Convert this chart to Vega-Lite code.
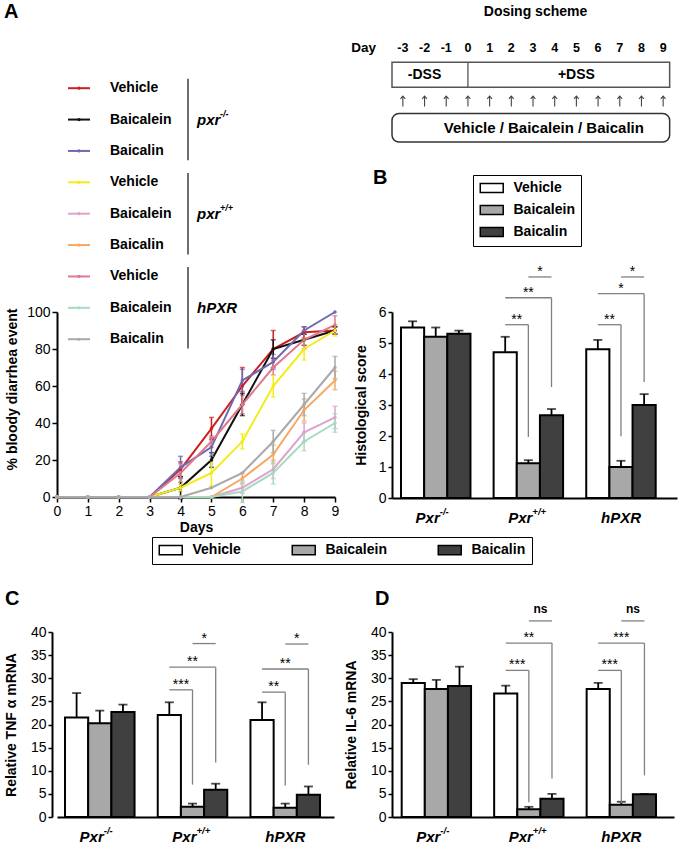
{
"$schema":"https://vega.github.io/schema/vega-lite/v6.json",
"padding":{"left":4,"top":2,"right":2,"bottom":2},
"background":"white",
"config":{
 "font":"Liberation Sans",
 "view":{"stroke":null},
 "axis":{"domainColor":"black","domainWidth":2,"tickColor":"black","tickWidth":1.5,"tickSize":4,"labelPadding":2,"labelColor":"black","labelFontSize":14,"titleFontSize":14,"titleFontWeight":"bold","titleColor":"black","grid":false,"labelFlush":false,"labelOverlap":false},
 "title":{"fontWeight":"bold","color":"black","anchor":"start","frame":"group","baseline":"alphabetic"}
},
"datasets":{
 "seriesA":[
  {"s":"pxr-/-|Vehicle","d":0,"v":0,"e":0},{"s":"pxr-/-|Vehicle","d":1,"v":0,"e":0},{"s":"pxr-/-|Vehicle","d":2,"v":0,"e":0},{"s":"pxr-/-|Vehicle","d":3,"v":0,"e":0},{"s":"pxr-/-|Vehicle","d":4,"v":15,"e":4},{"s":"pxr-/-|Vehicle","d":5,"v":37,"e":6},{"s":"pxr-/-|Vehicle","d":6,"v":60,"e":10},{"s":"pxr-/-|Vehicle","d":7,"v":80,"e":10},{"s":"pxr-/-|Vehicle","d":8,"v":89,"e":3},{"s":"pxr-/-|Vehicle","d":9,"v":90,"e":2},
  {"s":"pxr-/-|Baicalein","d":0,"v":0,"e":0},{"s":"pxr-/-|Baicalein","d":1,"v":0,"e":0},{"s":"pxr-/-|Baicalein","d":2,"v":0,"e":0},{"s":"pxr-/-|Baicalein","d":3,"v":0,"e":0},{"s":"pxr-/-|Baicalein","d":4,"v":5,"e":6},{"s":"pxr-/-|Baicalein","d":5,"v":20,"e":4},{"s":"pxr-/-|Baicalein","d":6,"v":50,"e":6},{"s":"pxr-/-|Baicalein","d":7,"v":80,"e":5},{"s":"pxr-/-|Baicalein","d":8,"v":85,"e":3},{"s":"pxr-/-|Baicalein","d":9,"v":90,"e":2},
  {"s":"pxr-/-|Baicalin","d":0,"v":0,"e":0},{"s":"pxr-/-|Baicalin","d":1,"v":0,"e":0},{"s":"pxr-/-|Baicalin","d":2,"v":0,"e":0},{"s":"pxr-/-|Baicalin","d":3,"v":0,"e":0},{"s":"pxr-/-|Baicalin","d":4,"v":16,"e":6},{"s":"pxr-/-|Baicalin","d":5,"v":27,"e":5},{"s":"pxr-/-|Baicalin","d":6,"v":63,"e":6},{"s":"pxr-/-|Baicalin","d":7,"v":73,"e":4},{"s":"pxr-/-|Baicalin","d":8,"v":90,"e":2},{"s":"pxr-/-|Baicalin","d":9,"v":100,"e":0},
  {"s":"pxr+/+|Vehicle","d":0,"v":0,"e":0},{"s":"pxr+/+|Vehicle","d":1,"v":0,"e":0},{"s":"pxr+/+|Vehicle","d":2,"v":0,"e":0},{"s":"pxr+/+|Vehicle","d":3,"v":0,"e":0},{"s":"pxr+/+|Vehicle","d":4,"v":5,"e":2},{"s":"pxr+/+|Vehicle","d":5,"v":13,"e":7},{"s":"pxr+/+|Vehicle","d":6,"v":30,"e":4},{"s":"pxr+/+|Vehicle","d":7,"v":60,"e":6},{"s":"pxr+/+|Vehicle","d":8,"v":80,"e":6},{"s":"pxr+/+|Vehicle","d":9,"v":90,"e":3},
  {"s":"pxr+/+|Baicalein","d":0,"v":0,"e":0},{"s":"pxr+/+|Baicalein","d":1,"v":0,"e":0},{"s":"pxr+/+|Baicalein","d":2,"v":0,"e":0},{"s":"pxr+/+|Baicalein","d":3,"v":0,"e":0},{"s":"pxr+/+|Baicalein","d":4,"v":0,"e":0},{"s":"pxr+/+|Baicalein","d":5,"v":0,"e":0},{"s":"pxr+/+|Baicalein","d":6,"v":5,"e":3},{"s":"pxr+/+|Baicalein","d":7,"v":15,"e":5},{"s":"pxr+/+|Baicalein","d":8,"v":35,"e":5},{"s":"pxr+/+|Baicalein","d":9,"v":43,"e":6},
  {"s":"pxr+/+|Baicalin","d":0,"v":0,"e":0},{"s":"pxr+/+|Baicalin","d":1,"v":0,"e":0},{"s":"pxr+/+|Baicalin","d":2,"v":0,"e":0},{"s":"pxr+/+|Baicalin","d":3,"v":0,"e":0},{"s":"pxr+/+|Baicalin","d":4,"v":0,"e":0},{"s":"pxr+/+|Baicalin","d":5,"v":0,"e":0},{"s":"pxr+/+|Baicalin","d":6,"v":10,"e":3},{"s":"pxr+/+|Baicalin","d":7,"v":23,"e":5},{"s":"pxr+/+|Baicalin","d":8,"v":47,"e":6},{"s":"pxr+/+|Baicalin","d":9,"v":63,"e":5},
  {"s":"hPXR|Vehicle","d":0,"v":0,"e":0},{"s":"hPXR|Vehicle","d":1,"v":0,"e":0},{"s":"hPXR|Vehicle","d":2,"v":0,"e":0},{"s":"hPXR|Vehicle","d":3,"v":0,"e":0},{"s":"hPXR|Vehicle","d":4,"v":13,"e":5},{"s":"hPXR|Vehicle","d":5,"v":30,"e":3},{"s":"hPXR|Vehicle","d":6,"v":50,"e":5},{"s":"hPXR|Vehicle","d":7,"v":70,"e":4},{"s":"hPXR|Vehicle","d":8,"v":85,"e":5},{"s":"hPXR|Vehicle","d":9,"v":93,"e":5},
  {"s":"hPXR|Baicalein","d":0,"v":0,"e":0},{"s":"hPXR|Baicalein","d":1,"v":0,"e":0},{"s":"hPXR|Baicalein","d":2,"v":0,"e":0},{"s":"hPXR|Baicalein","d":3,"v":0,"e":0},{"s":"hPXR|Baicalein","d":4,"v":0,"e":0},{"s":"hPXR|Baicalein","d":5,"v":0,"e":0},{"s":"hPXR|Baicalein","d":6,"v":3,"e":6},{"s":"hPXR|Baicalein","d":7,"v":13,"e":6},{"s":"hPXR|Baicalein","d":8,"v":30,"e":5},{"s":"hPXR|Baicalein","d":9,"v":40,"e":5},
  {"s":"hPXR|Baicalin","d":0,"v":0,"e":0},{"s":"hPXR|Baicalin","d":1,"v":0,"e":0},{"s":"hPXR|Baicalin","d":2,"v":0,"e":0},{"s":"hPXR|Baicalin","d":3,"v":0,"e":0},{"s":"hPXR|Baicalin","d":4,"v":0,"e":0},{"s":"hPXR|Baicalin","d":5,"v":5,"e":0},{"s":"hPXR|Baicalin","d":6,"v":13,"e":0},{"s":"hPXR|Baicalin","d":7,"v":30,"e":6},{"s":"hPXR|Baicalin","d":8,"v":50,"e":6},{"s":"hPXR|Baicalin","d":9,"v":70,"e":6}
 ],
 "legA":[
  {"s":"pxr-/-|Vehicle","t":"Vehicle"},{"s":"pxr-/-|Baicalein","t":"Baicalein"},{"s":"pxr-/-|Baicalin","t":"Baicalin"},
  {"s":"pxr+/+|Vehicle","t":"Vehicle"},{"s":"pxr+/+|Baicalein","t":"Baicalein"},{"s":"pxr+/+|Baicalin","t":"Baicalin"},
  {"s":"hPXR|Vehicle","t":"Vehicle"},{"s":"hPXR|Baicalein","t":"Baicalein"},{"s":"hPXR|Baicalin","t":"Baicalin"}
 ],
 "grpA":[
  {"g":"pxr","sup":"-/-","first":"pxr-/-|Vehicle","mid":"pxr-/-|Baicalein","last":"pxr-/-|Baicalin"},
  {"g":"pxr","sup":"+/+","first":"pxr+/+|Vehicle","mid":"pxr+/+|Baicalein","last":"pxr+/+|Baicalin"},
  {"g":"hPXR","sup":"","first":"hPXR|Vehicle","mid":"hPXR|Baicalein","last":"hPXR|Baicalin"}
 ],
 "days":[{"day":-3},{"day":-2},{"day":-1},{"day":0},{"day":1},{"day":2},{"day":3},{"day":4},{"day":5},{"day":6},{"day":7},{"day":8},{"day":9}],
 "dssBox":[{"a":-3,"b":9,"div":0}],
 "dssText":[{"c":-2,"lab":"-DSS"},{"c":5,"lab":"+DSS"}],
 "treatBox":[{"a":-3,"b":9,"c":4,"lab":"Vehicle / Baicalein / Baicalin"}],
 "cat":[{"key":"Pxr-/-|Baicalein","base":"Pxr","sup":"-/-"},{"key":"Pxr+/+|Baicalein","base":"Pxr","sup":"+/+"},{"key":"hPXR|Baicalein","base":"hPXR","sup":""}],
 "barsB":[
  {"key":"Pxr-/-|Vehicle","t":"Vehicle","v":5.5,"hi":5.7},{"key":"Pxr-/-|Baicalein","t":"Baicalein","v":5.2,"hi":5.5},{"key":"Pxr-/-|Baicalin","t":"Baicalin","v":5.3,"hi":5.4},
  {"key":"Pxr+/+|Vehicle","t":"Vehicle","v":4.7,"hi":5.2},{"key":"Pxr+/+|Baicalein","t":"Baicalein","v":1.12,"hi":1.22},{"key":"Pxr+/+|Baicalin","t":"Baicalin","v":2.67,"hi":2.87},
  {"key":"hPXR|Vehicle","t":"Vehicle","v":4.8,"hi":5.1},{"key":"hPXR|Baicalein","t":"Baicalein","v":1.0,"hi":1.2},{"key":"hPXR|Baicalin","t":"Baicalin","v":3.0,"hi":3.35}
 ],
 "barsC":[
  {"key":"Pxr-/-|Vehicle","t":"Vehicle","v":21.5,"hi":26.8},{"key":"Pxr-/-|Baicalein","t":"Baicalein","v":20.25,"hi":23.0},{"key":"Pxr-/-|Baicalin","t":"Baicalin","v":22.7,"hi":24.3},
  {"key":"Pxr+/+|Vehicle","t":"Vehicle","v":22.05,"hi":24.8},{"key":"Pxr+/+|Baicalein","t":"Baicalein","v":2.2,"hi":2.9},{"key":"Pxr+/+|Baicalin","t":"Baicalin","v":5.9,"hi":7.2},
  {"key":"hPXR|Vehicle","t":"Vehicle","v":21.0,"hi":24.8},{"key":"hPXR|Baicalein","t":"Baicalein","v":2.0,"hi":2.9},{"key":"hPXR|Baicalin","t":"Baicalin","v":4.8,"hi":6.6}
 ],
 "barsD":[
  {"key":"Pxr-/-|Vehicle","t":"Vehicle","v":29.0,"hi":29.8},{"key":"Pxr-/-|Baicalein","t":"Baicalein","v":27.65,"hi":29.65},{"key":"Pxr-/-|Baicalin","t":"Baicalin","v":28.3,"hi":32.5},
  {"key":"Pxr+/+|Vehicle","t":"Vehicle","v":26.7,"hi":28.4},{"key":"Pxr+/+|Baicalein","t":"Baicalein","v":1.7,"hi":2.2},{"key":"Pxr+/+|Baicalin","t":"Baicalin","v":3.95,"hi":5.0},
  {"key":"hPXR|Vehicle","t":"Vehicle","v":27.7,"hi":29.0},{"key":"hPXR|Baicalein","t":"Baicalein","v":2.65,"hi":3.3},{"key":"hPXR|Baicalin","t":"Baicalin","v":4.9,"hi":5.0}
 ],
 "sigB":[
  {"from":"Pxr+/+|Vehicle","to":"Pxr+/+|Baicalein","mid":"Pxr+/+|Baicalein","span":1,"y":5.59,"yv":1.97,"lab":"**"},
  {"from":"Pxr+/+|Vehicle","to":"Pxr+/+|Baicalin","mid":"Pxr+/+|Baicalein","span":2,"y":6.46,"yv":3.58,"lab":"**"},
  {"from":"Pxr+/+|Baicalein","to":"Pxr+/+|Baicalin","mid":"Pxr+/+|Baicalein","span":1,"y":7.13,"yv":7.13,"lab":"*"},
  {"from":"hPXR|Vehicle","to":"hPXR|Baicalein","mid":"hPXR|Baicalein","span":1,"y":5.59,"yv":1.99,"lab":"**"},
  {"from":"hPXR|Vehicle","to":"hPXR|Baicalin","mid":"hPXR|Baicalein","span":2,"y":6.59,"yv":3.74,"lab":"*"},
  {"from":"hPXR|Baicalein","to":"hPXR|Baicalin","mid":"hPXR|Baicalein","span":1,"y":7.13,"yv":7.13,"lab":"*"}
 ],
 "sigC":[
  {"from":"Pxr+/+|Vehicle","to":"Pxr+/+|Baicalein","mid":"Pxr+/+|Baicalein","span":1,"y":27.5,"yv":7.0,"lab":"***"},
  {"from":"Pxr+/+|Vehicle","to":"Pxr+/+|Baicalin","mid":"Pxr+/+|Baicalein","span":2,"y":32.4,"yv":11.8,"lab":"**"},
  {"from":"Pxr+/+|Baicalein","to":"Pxr+/+|Baicalin","mid":"Pxr+/+|Baicalein","span":1,"y":37.5,"yv":37.5,"lab":"*"},
  {"from":"hPXR|Vehicle","to":"hPXR|Baicalein","mid":"hPXR|Baicalein","span":1,"y":27.0,"yv":6.8,"lab":"**"},
  {"from":"hPXR|Vehicle","to":"hPXR|Baicalin","mid":"hPXR|Baicalein","span":2,"y":32.0,"yv":11.3,"lab":"**"},
  {"from":"hPXR|Baicalein","to":"hPXR|Baicalin","mid":"hPXR|Baicalein","span":1,"y":37.4,"yv":37.4,"lab":"*"}
 ],
 "sigD":[
  {"from":"Pxr+/+|Vehicle","to":"Pxr+/+|Baicalein","mid":"Pxr+/+|Baicalein","span":1,"y":31.7,"yv":3.2,"lab":"***"},
  {"from":"Pxr+/+|Vehicle","to":"Pxr+/+|Baicalin","mid":"Pxr+/+|Baicalein","span":2,"y":37.6,"yv":8.3,"lab":"**"},
  {"from":"Pxr+/+|Baicalein","to":"Pxr+/+|Baicalin","mid":"Pxr+/+|Baicalein","span":1,"y":42.4,"yv":42.4,"lab":"ns"},
  {"from":"hPXR|Vehicle","to":"hPXR|Baicalein","mid":"hPXR|Baicalein","span":1,"y":31.7,"yv":3.0,"lab":"***"},
  {"from":"hPXR|Vehicle","to":"hPXR|Baicalin","mid":"hPXR|Baicalein","span":2,"y":37.6,"yv":9.0,"lab":"***"},
  {"from":"hPXR|Baicalein","to":"hPXR|Baicalin","mid":"hPXR|Baicalein","span":1,"y":42.4,"yv":42.4,"lab":"ns"}
 ]
},
"bounds":"flush",
"columns":2,
"spacing":{"row":134,"column":57},
"resolve":{"scale":{"fill":"independent","color":"independent"},"legend":{"fill":"independent","color":"independent"}},
"concat":[
 {"width":278,"height":143,
  "title":{"text":"A","fontSize":20,"dx":-53,"offset":13},
  "layer":[
   {"data":{"name":"legA"},"mark":{"type":"rule","strokeWidth":2},
    "encoding":{"x":{"value":11},"x2":{"value":33},
     "y":{"field":"s","type":"nominal","bandPosition":0.5,"scale":{"type":"band","domain":["pxr-/-|Vehicle","pxr-/-|Baicalein","pxr-/-|Baicalin","pxr+/+|Vehicle","pxr+/+|Baicalein","pxr+/+|Baicalin","hPXR|Vehicle","hPXR|Baicalein","hPXR|Baicalin"],"range":[37.5,319.9],"paddingInner":0,"paddingOuter":0},"axis":null},
     "color":{"field":"s","type":"nominal","scale":{"domain":["pxr-/-|Vehicle","pxr-/-|Baicalein","pxr-/-|Baicalin","pxr+/+|Vehicle","pxr+/+|Baicalein","pxr+/+|Baicalin","hPXR|Vehicle","hPXR|Baicalein","hPXR|Baicalin"],"range":["#cc1f1f","#111111","#6b6bb3","#f2ec1a","#dda3cf","#f5a862","#e0788f","#a7dbbd","#a9a9a9"]},"legend":null}}},
   {"data":{"name":"legA"},"mark":{"type":"point","filled":true,"size":10,"opacity":1},
    "encoding":{"x":{"value":22},"y":{"field":"s","type":"nominal","bandPosition":0.5,"axis":null},"color":{"field":"s","type":"nominal","legend":null}}},
   {"data":{"name":"legA"},"mark":{"type":"text","align":"left","baseline":"middle","fontSize":14,"fontWeight":"bold","color":"black"},
    "encoding":{"x":{"value":53},"y":{"field":"s","type":"nominal","bandPosition":0.5,"axis":null},"text":{"field":"t","type":"nominal"}}},
   {"data":{"name":"grpA"},"mark":{"type":"rule","color":"#222222","strokeWidth":1.3},
    "encoding":{"x":{"value":131},"y":{"field":"first","type":"nominal","bandPosition":0.2,"axis":null},"y2":{"field":"last","bandPosition":0.8}}},
   {"data":{"name":"grpA"},"mark":{"type":"text","align":"left","baseline":"middle","fontSize":15,"fontWeight":"bold","fontStyle":"italic","color":"black"},
    "encoding":{"x":{"value":140},"y":{"field":"mid","type":"nominal","bandPosition":0.5,"axis":null},"text":{"field":"g","type":"nominal"}}},
   {"data":{"name":"grpA"},"mark":{"type":"text","align":"left","baseline":"middle","dy":-6,"fontSize":9,"fontWeight":"bold","fontStyle":"italic","color":"black"},
    "encoding":{"x":{"value":163},"y":{"field":"mid","type":"nominal","bandPosition":0.5,"axis":null},"text":{"field":"sup","type":"nominal"}}}
  ]},
 {"width":282,"height":106,
  "title":{"text":"Dosing scheme","anchor":"middle","fontSize":14,"dx":2.5,"offset":16},
  "layer":[
   {"data":{"name":"dssBox"},"mark":{"type":"rect","fill":"white","stroke":"#555555","strokeWidth":1.5,"height":{"band":0.94}},
    "encoding":{"x":{"field":"a","type":"ordinal","bandPosition":0,"scale":{"type":"band","domain":[-3,-2,-1,0,1,2,3,4,5,6,7,8,9],"paddingInner":0,"paddingOuter":0},"axis":null},
     "x2":{"field":"b","bandPosition":0.8},
     "y":{"datum":"box","type":"nominal","scale":{"type":"band","domain":["days","box","arrow","treat"],"paddingInner":0,"paddingOuter":0},"axis":{"labelExpr":"datum.value == 'days' ? 'Day' : ''","domain":false,"ticks":false,"labelFontWeight":"bold","labelFontSize":13.5,"labelPadding":16.5,"title":null}}}},
   {"data":{"name":"dssBox"},"mark":{"type":"rule","color":"#555555","strokeWidth":1.3},
    "encoding":{"x":{"field":"div","type":"ordinal","bandPosition":0.5,"axis":null},"y":{"datum":"box","type":"nominal","bandPosition":0.03},"y2":{"datum":"box","bandPosition":0.97}}},
   {"data":{"name":"dssText"},"mark":{"type":"text","fontSize":14,"fontWeight":"bold","baseline":"middle"},
    "encoding":{"x":{"field":"c","type":"ordinal","bandPosition":0.5,"axis":null},"y":{"datum":"box","type":"nominal"},"text":{"field":"lab","type":"nominal"}}},
   {"data":{"name":"days"},"mark":{"type":"text","fontSize":12.5,"fontWeight":"bold","baseline":"middle"},
    "encoding":{"x":{"field":"day","type":"ordinal","bandPosition":0.5,"axis":null},"y":{"datum":"days","type":"nominal"},"text":{"field":"day","type":"nominal"}}},
   {"data":{"name":"days"},"mark":{"type":"point","shape":"M0,1V-1M-0.45,-0.45L0,-1L0.45,-0.45","filled":false,"size":110,"color":"#444444","strokeWidth":1.1,"opacity":1},
    "encoding":{"x":{"field":"day","type":"ordinal","bandPosition":0.5,"axis":null},"y":{"datum":"arrow","type":"nominal"}}},
   {"data":{"name":"treatBox"},"mark":{"type":"rect","fill":"white","stroke":"#333333","strokeWidth":1.5,"cornerRadius":7,"height":{"band":1.08}},
    "encoding":{"x":{"field":"a","type":"ordinal","bandPosition":0,"axis":null},"x2":{"field":"b","bandPosition":0.8},"y":{"datum":"treat","type":"nominal"}}},
   {"data":{"name":"treatBox"},"mark":{"type":"text","fontSize":15,"fontWeight":"bold","baseline":"middle"},
    "encoding":{"x":{"field":"c","type":"ordinal","bandPosition":0,"axis":null},"y":{"datum":"treat","type":"nominal"},"text":{"field":"lab","type":"nominal"}}}
  ]},
 {"width":278,"height":185,
  "data":{"name":"seriesA"},
  "layer":[
   {"mark":{"type":"line","strokeWidth":2},
    "encoding":{
     "x":{"field":"d","type":"quantitative","title":"Days","scale":{"domain":[0,9],"nice":false},"axis":{"title":"Days","values":[0,1,2,3,4,5,6,7,8,9],"tickSize":5,"titlePadding":2}},
     "y":{"field":"v","type":"quantitative","title":"% bloody diarrhea event","scale":{"domain":[0,100],"nice":false},"axis":{"title":"% bloody diarrhea event","values":[0,20,40,60,80,100],"tickSize":5,"titlePadding":7.6,"titleY":77}},
     "color":{"field":"s","type":"nominal","scale":{"domain":["pxr-/-|Vehicle","pxr-/-|Baicalein","pxr-/-|Baicalin","pxr+/+|Vehicle","pxr+/+|Baicalein","pxr+/+|Baicalin","hPXR|Vehicle","hPXR|Baicalein","hPXR|Baicalin"],"range":["#cc1f1f","#111111","#6b6bb3","#f2ec1a","#dda3cf","#f5a862","#e0788f","#a7dbbd","#a9a9a9"]},"legend":null}}},
   {"transform":[{"filter":"datum.e > 0"}],
    "mark":{"type":"errorbar","ticks":{"size":5},"thickness":1.5},
    "encoding":{"x":{"field":"d","type":"quantitative","title":"Days","axis":{"title":"Days","values":[0,1,2,3,4,5,6,7,8,9],"tickSize":5,"titlePadding":2}},
     "y":{"field":"v","type":"quantitative","title":"% bloody diarrhea event","axis":{"title":"% bloody diarrhea event","values":[0,20,40,60,80,100],"tickSize":5,"titlePadding":7.6,"titleY":77}},
     "yError":{"field":"e"},"color":{"field":"s","type":"nominal","legend":null}}},
   {"mark":{"type":"point","filled":true,"size":12,"opacity":1},
    "encoding":{"x":{"field":"d","type":"quantitative","title":"Days","axis":{"title":"Days","values":[0,1,2,3,4,5,6,7,8,9],"tickSize":5,"titlePadding":2}},
     "y":{"field":"v","type":"quantitative","title":"% bloody diarrhea event","axis":{"title":"% bloody diarrhea event","values":[0,20,40,60,80,100],"tickSize":5,"titlePadding":7.6,"titleY":77}},
     "color":{"field":"s","type":"nominal","legend":null}}}
  ]},
 {"width":285,"height":186,
  "title":{"text":"B","fontSize":20,"dx":-19,"offset":-13},
  "layer":[
   {"data":{"name":"barsB"},"mark":{"type":"bar","stroke":"black","strokeWidth":2},
    "encoding":{
     "x":{"field":"key","type":"nominal","title":null,"scale":{"type":"band","domain":["Pxr-/-|Vehicle","Pxr-/-|Baicalein","Pxr-/-|Baicalin","gap1","Pxr+/+|Vehicle","Pxr+/+|Baicalein","Pxr+/+|Baicalin","gap2","hPXR|Vehicle","hPXR|Baicalein","hPXR|Baicalin"],"paddingInner":0,"paddingOuter":0.654,"align":0.297},"axis":{"title":null,"labels":false,"ticks":false}},
     "y":{"field":"v","type":"quantitative","title":"Histological score","scale":{"domain":[0,6],"nice":false},"axis":{"values":[0,1,2,3,4,5,6],"title":"Histological score","titlePadding":9.7}},
     "fill":{"field":"t","type":"nominal","scale":{"domain":["Vehicle","Baicalein","Baicalin"],"range":["#ffffff","#a8a8a8","#404040"]},
      "legend":{"orient":"none","legendX":81,"legendY":-137,"direction":"vertical","title":null,"strokeColor":"black","padding":6,"rowPadding":6,"symbolType":"M-1,-0.8H3V0.8H-1Z","symbolSize":132,"labelFontSize":14,"labelFontWeight":"bold","labelColor":"black","labelOffset":20.5,
       "encode":{"symbols":{"update":{"fill":{"signal":"datum.value == 'Baicalein' ? '#d6d6d6' : datum.value == 'Baicalin' ? '#363636' : '#ffffff'"},"stroke":{"value":"black"},"strokeWidth":{"value":1.2},"opacity":{"value":1}}},"legend":{"update":{"strokeWidth":{"value":1.5}}}}}}}},
   {"data":{"name":"barsB"},"mark":{"type":"rule","color":"black","strokeWidth":1.8},
    "encoding":{"x":{"field":"key","type":"nominal","title":null,"bandPosition":0.5,"axis":{"title":null,"labels":false,"ticks":false}},"y":{"field":"v","type":"quantitative","title":"Histological score","axis":{"values":[0,1,2,3,4,5,6],"title":"Histological score","titlePadding":9.7}},"y2":{"field":"hi"}}},
   {"data":{"name":"barsB"},"mark":{"type":"tick","color":"black","thickness":1.8,"size":9},
    "encoding":{"x":{"field":"key","type":"nominal","title":null,"bandPosition":0.5,"axis":{"title":null,"labels":false,"ticks":false}},"y":{"field":"hi","type":"quantitative","title":"Histological score","axis":{"values":[0,1,2,3,4,5,6],"title":"Histological score","titlePadding":9.7}}}},
   {"data":{"name":"sigB"},"mark":{"type":"rule","color":"#808080","strokeWidth":1.3},
    "encoding":{"x":{"field":"from","type":"nominal","title":null,"bandPosition":0.5,"axis":{"title":null,"labels":false,"ticks":false}},"x2":{"field":"to","bandPosition":0.5},"y":{"field":"y","type":"quantitative","title":"Histological score","axis":{"values":[0,1,2,3,4,5,6],"title":"Histological score","titlePadding":9.7}}}},
   {"data":{"name":"sigB"},"mark":{"type":"rule","color":"#808080","strokeWidth":1.3},
    "encoding":{"x":{"field":"to","type":"nominal","title":null,"bandPosition":0.5,"axis":{"title":null,"labels":false,"ticks":false}},"y":{"field":"y","type":"quantitative","title":"Histological score","axis":{"values":[0,1,2,3,4,5,6],"title":"Histological score","titlePadding":9.7}},"y2":{"field":"yv"}}},
   {"data":{"name":"sigB"},"transform":[{"filter":"datum.span == 1 && datum.lab != 'ns'"}],"mark":{"type":"text","fontSize":14,"dy":-1,"baseline":"alphabetic"},
    "encoding":{"x":{"field":"to","type":"nominal","title":null,"bandPosition":0,"axis":{"title":null,"labels":false,"ticks":false}},"y":{"field":"y","type":"quantitative","title":"Histological score","axis":{"values":[0,1,2,3,4,5,6],"title":"Histological score","titlePadding":9.7}},"text":{"field":"lab","type":"nominal"}}},
   {"data":{"name":"sigB"},"transform":[{"filter":"datum.span == 2"}],"mark":{"type":"text","fontSize":14,"dy":-1,"baseline":"alphabetic"},
    "encoding":{"x":{"field":"mid","type":"nominal","title":null,"bandPosition":0.5,"axis":{"title":null,"labels":false,"ticks":false}},"y":{"field":"y","type":"quantitative","title":"Histological score","axis":{"values":[0,1,2,3,4,5,6],"title":"Histological score","titlePadding":9.7}},"text":{"field":"lab","type":"nominal"}}},
   {"data":{"name":"cat"},"transform":[{"filter":"datum.sup != ''"}],"mark":{"type":"text","align":"right","baseline":"middle","dx":4,"dy":20,"fontSize":15,"fontWeight":"bold","fontStyle":"italic"},
    "encoding":{"x":{"field":"key","type":"nominal","title":null,"bandPosition":0.5,"axis":{"title":null,"labels":false,"ticks":false}},"y":{"datum":0,"type":"quantitative","title":"Histological score","axis":{"values":[0,1,2,3,4,5,6],"title":"Histological score","titlePadding":9.7}},"text":{"field":"base","type":"nominal"}}},
   {"data":{"name":"cat"},"transform":[{"filter":"datum.sup != ''"}],"mark":{"type":"text","align":"left","baseline":"middle","dx":4,"dy":14,"fontSize":9.5,"fontWeight":"bold","fontStyle":"italic"},
    "encoding":{"x":{"field":"key","type":"nominal","title":null,"bandPosition":0.5,"axis":{"title":null,"labels":false,"ticks":false}},"y":{"datum":0,"type":"quantitative","title":"Histological score","axis":{"values":[0,1,2,3,4,5,6],"title":"Histological score","titlePadding":9.7}},"text":{"field":"sup","type":"nominal"}}},
   {"data":{"name":"cat"},"transform":[{"filter":"datum.sup == ''"}],"mark":{"type":"text","align":"center","baseline":"middle","dy":20,"fontSize":15,"fontWeight":"bold","fontStyle":"italic"},
    "encoding":{"x":{"field":"key","type":"nominal","title":null,"bandPosition":0.5,"axis":{"title":null,"labels":false,"ticks":false}},"y":{"datum":0,"type":"quantitative","title":"Histological score","axis":{"values":[0,1,2,3,4,5,6],"title":"Histological score","titlePadding":9.7}},"text":{"field":"base","type":"nominal"}}}
  ]},
 {"width":277,"height":185,
  "title":{"text":"C","fontSize":20,"dx":-52,"offset":-72},
  "layer":[
   {"data":{"name":"barsC"},"mark":{"type":"bar","stroke":"black","strokeWidth":2},
    "encoding":{
     "x":{"field":"key","type":"nominal","title":null,"scale":{"type":"band","domain":["Pxr-/-|Vehicle","Pxr-/-|Baicalein","Pxr-/-|Baicalin","gap1","Pxr+/+|Vehicle","Pxr+/+|Baicalein","Pxr+/+|Baicalin","gap2","hPXR|Vehicle","hPXR|Baicalein","hPXR|Baicalin"],"paddingInner":0,"paddingOuter":0.4745,"align":0.364},"axis":{"title":null,"labels":false,"ticks":false}},
     "y":{"field":"v","type":"quantitative","title":"Relative TNF α mRNA","scale":{"domain":[0,40],"nice":false},"axis":{"values":[0,5,10,15,20,25,30,35,40],"title":"Relative TNF α mRNA","titlePadding":12,"offset":5}},
     "fill":{"field":"t","type":"nominal","scale":{"domain":["Vehicle","Baicalein","Baicalin"],"range":["#ffffff","#a8a8a8","#404040"]},
      "legend":{"orient":"none","legendX":95,"legendY":-95,"direction":"horizontal","columns":3,"title":null,"strokeColor":"black","padding":6,"columnPadding":48,"symbolType":"M-1,-0.8H3V0.8H-1Z","symbolSize":132,"labelFontSize":14,"labelFontWeight":"bold","labelColor":"black","labelOffset":20.5,
       "encode":{"symbols":{"update":{"fill":{"signal":"datum.value == 'Baicalein' ? '#d6d6d6' : datum.value == 'Baicalin' ? '#363636' : '#ffffff'"},"stroke":{"value":"black"},"strokeWidth":{"value":1.2},"opacity":{"value":1}}},"legend":{"update":{"strokeWidth":{"value":1.5}}}}}}}},
   {"data":{"name":"barsC"},"mark":{"type":"rule","color":"black","strokeWidth":1.8},
    "encoding":{"x":{"field":"key","type":"nominal","title":null,"bandPosition":0.5,"axis":{"title":null,"labels":false,"ticks":false}},"y":{"field":"v","type":"quantitative","title":"Relative TNF α mRNA","axis":{"values":[0,5,10,15,20,25,30,35,40],"title":"Relative TNF α mRNA","titlePadding":12,"offset":5}},"y2":{"field":"hi"}}},
   {"data":{"name":"barsC"},"mark":{"type":"tick","color":"black","thickness":1.8,"size":9},
    "encoding":{"x":{"field":"key","type":"nominal","title":null,"bandPosition":0.5,"axis":{"title":null,"labels":false,"ticks":false}},"y":{"field":"hi","type":"quantitative","title":"Relative TNF α mRNA","axis":{"values":[0,5,10,15,20,25,30,35,40],"title":"Relative TNF α mRNA","titlePadding":12,"offset":5}}}},
   {"data":{"name":"sigC"},"mark":{"type":"rule","color":"#808080","strokeWidth":1.3},
    "encoding":{"x":{"field":"from","type":"nominal","title":null,"bandPosition":0.5,"axis":{"title":null,"labels":false,"ticks":false}},"x2":{"field":"to","bandPosition":0.5},"y":{"field":"y","type":"quantitative","title":"Relative TNF α mRNA","axis":{"values":[0,5,10,15,20,25,30,35,40],"title":"Relative TNF α mRNA","titlePadding":12,"offset":5}}}},
   {"data":{"name":"sigC"},"mark":{"type":"rule","color":"#808080","strokeWidth":1.3},
    "encoding":{"x":{"field":"to","type":"nominal","title":null,"bandPosition":0.5,"axis":{"title":null,"labels":false,"ticks":false}},"y":{"field":"y","type":"quantitative","title":"Relative TNF α mRNA","axis":{"values":[0,5,10,15,20,25,30,35,40],"title":"Relative TNF α mRNA","titlePadding":12,"offset":5}},"y2":{"field":"yv"}}},
   {"data":{"name":"sigC"},"transform":[{"filter":"datum.span == 1 && datum.lab != 'ns'"}],"mark":{"type":"text","fontSize":14,"dy":-1,"baseline":"alphabetic"},
    "encoding":{"x":{"field":"to","type":"nominal","title":null,"bandPosition":0,"axis":{"title":null,"labels":false,"ticks":false}},"y":{"field":"y","type":"quantitative","title":"Relative TNF α mRNA","axis":{"values":[0,5,10,15,20,25,30,35,40],"title":"Relative TNF α mRNA","titlePadding":12,"offset":5}},"text":{"field":"lab","type":"nominal"}}},
   {"data":{"name":"sigC"},"transform":[{"filter":"datum.span == 2"}],"mark":{"type":"text","fontSize":14,"dy":-1,"baseline":"alphabetic"},
    "encoding":{"x":{"field":"mid","type":"nominal","title":null,"bandPosition":0.5,"axis":{"title":null,"labels":false,"ticks":false}},"y":{"field":"y","type":"quantitative","title":"Relative TNF α mRNA","axis":{"values":[0,5,10,15,20,25,30,35,40],"title":"Relative TNF α mRNA","titlePadding":12,"offset":5}},"text":{"field":"lab","type":"nominal"}}},
   {"data":{"name":"cat"},"transform":[{"filter":"datum.sup != ''"}],"mark":{"type":"text","align":"right","baseline":"middle","dx":4,"dy":20,"fontSize":15,"fontWeight":"bold","fontStyle":"italic"},
    "encoding":{"x":{"field":"key","type":"nominal","title":null,"bandPosition":0.5,"axis":{"title":null,"labels":false,"ticks":false}},"y":{"datum":0,"type":"quantitative","title":"Relative TNF α mRNA","axis":{"values":[0,5,10,15,20,25,30,35,40],"title":"Relative TNF α mRNA","titlePadding":12,"offset":5}},"text":{"field":"base","type":"nominal"}}},
   {"data":{"name":"cat"},"transform":[{"filter":"datum.sup != ''"}],"mark":{"type":"text","align":"left","baseline":"middle","dx":4,"dy":14,"fontSize":9.5,"fontWeight":"bold","fontStyle":"italic"},
    "encoding":{"x":{"field":"key","type":"nominal","title":null,"bandPosition":0.5,"axis":{"title":null,"labels":false,"ticks":false}},"y":{"datum":0,"type":"quantitative","title":"Relative TNF α mRNA","axis":{"values":[0,5,10,15,20,25,30,35,40],"title":"Relative TNF α mRNA","titlePadding":12,"offset":5}},"text":{"field":"sup","type":"nominal"}}},
   {"data":{"name":"cat"},"transform":[{"filter":"datum.sup == ''"}],"mark":{"type":"text","align":"center","baseline":"middle","dy":20,"fontSize":15,"fontWeight":"bold","fontStyle":"italic"},
    "encoding":{"x":{"field":"key","type":"nominal","title":null,"bandPosition":0.5,"axis":{"title":null,"labels":false,"ticks":false}},"y":{"datum":0,"type":"quantitative","title":"Relative TNF α mRNA","axis":{"values":[0,5,10,15,20,25,30,35,40],"title":"Relative TNF α mRNA","titlePadding":12,"offset":5}},"text":{"field":"base","type":"nominal"}}}
  ]},
 {"width":282,"height":185,
  "title":{"text":"D","fontSize":20,"dx":-17,"offset":-6},
  "layer":[
   {"data":{"name":"barsD"},"mark":{"type":"bar","stroke":"black","strokeWidth":2},
    "encoding":{
     "x":{"field":"key","type":"nominal","title":null,"scale":{"type":"band","domain":["Pxr-/-|Vehicle","Pxr-/-|Baicalein","Pxr-/-|Baicalin","gap1","Pxr+/+|Vehicle","Pxr+/+|Baicalein","Pxr+/+|Baicalin","gap2","hPXR|Vehicle","hPXR|Baicalein","hPXR|Baicalin"],"paddingInner":0,"paddingOuter":0.599,"align":0.35},"axis":{"title":null,"labels":false,"ticks":false}},
     "y":{"field":"v","type":"quantitative","title":"Relative IL-6  mRNA","scale":{"domain":[0,40],"nice":false},"axis":{"values":[0,5,10,15,20,25,30,35,40],"title":"Relative IL-6  mRNA","titlePadding":12}},
     "fill":{"field":"t","type":"nominal","scale":{"domain":["Vehicle","Baicalein","Baicalin"],"range":["#ffffff","#a8a8a8","#404040"]},"legend":null}}},
   {"data":{"name":"barsD"},"mark":{"type":"rule","color":"black","strokeWidth":1.8},
    "encoding":{"x":{"field":"key","type":"nominal","title":null,"bandPosition":0.5,"axis":{"title":null,"labels":false,"ticks":false}},"y":{"field":"v","type":"quantitative","title":"Relative IL-6  mRNA","axis":{"values":[0,5,10,15,20,25,30,35,40],"title":"Relative IL-6  mRNA","titlePadding":12}},"y2":{"field":"hi"}}},
   {"data":{"name":"barsD"},"mark":{"type":"tick","color":"black","thickness":1.8,"size":9},
    "encoding":{"x":{"field":"key","type":"nominal","title":null,"bandPosition":0.5,"axis":{"title":null,"labels":false,"ticks":false}},"y":{"field":"hi","type":"quantitative","title":"Relative IL-6  mRNA","axis":{"values":[0,5,10,15,20,25,30,35,40],"title":"Relative IL-6  mRNA","titlePadding":12}}}},
   {"data":{"name":"sigD"},"mark":{"type":"rule","color":"#808080","strokeWidth":1.3},
    "encoding":{"x":{"field":"from","type":"nominal","title":null,"bandPosition":0.5,"axis":{"title":null,"labels":false,"ticks":false}},"x2":{"field":"to","bandPosition":0.5},"y":{"field":"y","type":"quantitative","title":"Relative IL-6  mRNA","axis":{"values":[0,5,10,15,20,25,30,35,40],"title":"Relative IL-6  mRNA","titlePadding":12}}}},
   {"data":{"name":"sigD"},"mark":{"type":"rule","color":"#808080","strokeWidth":1.3},
    "encoding":{"x":{"field":"to","type":"nominal","title":null,"bandPosition":0.5,"axis":{"title":null,"labels":false,"ticks":false}},"y":{"field":"y","type":"quantitative","title":"Relative IL-6  mRNA","axis":{"values":[0,5,10,15,20,25,30,35,40],"title":"Relative IL-6  mRNA","titlePadding":12}},"y2":{"field":"yv"}}},
   {"data":{"name":"sigD"},"transform":[{"filter":"datum.span == 1 && datum.lab != 'ns'"}],"mark":{"type":"text","fontSize":14,"dy":-1,"baseline":"alphabetic"},
    "encoding":{"x":{"field":"to","type":"nominal","title":null,"bandPosition":0,"axis":{"title":null,"labels":false,"ticks":false}},"y":{"field":"y","type":"quantitative","title":"Relative IL-6  mRNA","axis":{"values":[0,5,10,15,20,25,30,35,40],"title":"Relative IL-6  mRNA","titlePadding":12}},"text":{"field":"lab","type":"nominal"}}},
   {"data":{"name":"sigD"},"transform":[{"filter":"datum.span == 2"}],"mark":{"type":"text","fontSize":14,"dy":-1,"baseline":"alphabetic"},
    "encoding":{"x":{"field":"mid","type":"nominal","title":null,"bandPosition":0.5,"axis":{"title":null,"labels":false,"ticks":false}},"y":{"field":"y","type":"quantitative","title":"Relative IL-6  mRNA","axis":{"values":[0,5,10,15,20,25,30,35,40],"title":"Relative IL-6  mRNA","titlePadding":12}},"text":{"field":"lab","type":"nominal"}}},
   {"data":{"name":"sigD"},"transform":[{"filter":"datum.lab == 'ns'"}],"mark":{"type":"text","fontSize":12,"fontWeight":"bold","dy":-7.5,"baseline":"alphabetic"},
    "encoding":{"x":{"field":"to","type":"nominal","title":null,"bandPosition":0,"axis":{"title":null,"labels":false,"ticks":false}},"y":{"field":"y","type":"quantitative","title":"Relative IL-6  mRNA","axis":{"values":[0,5,10,15,20,25,30,35,40],"title":"Relative IL-6  mRNA","titlePadding":12}},"text":{"field":"lab","type":"nominal"}}},
   {"data":{"name":"cat"},"transform":[{"filter":"datum.sup != ''"}],"mark":{"type":"text","align":"right","baseline":"middle","dx":4,"dy":20,"fontSize":15,"fontWeight":"bold","fontStyle":"italic"},
    "encoding":{"x":{"field":"key","type":"nominal","title":null,"bandPosition":0.5,"axis":{"title":null,"labels":false,"ticks":false}},"y":{"datum":0,"type":"quantitative","title":"Relative IL-6  mRNA","axis":{"values":[0,5,10,15,20,25,30,35,40],"title":"Relative IL-6  mRNA","titlePadding":12}},"text":{"field":"base","type":"nominal"}}},
   {"data":{"name":"cat"},"transform":[{"filter":"datum.sup != ''"}],"mark":{"type":"text","align":"left","baseline":"middle","dx":4,"dy":14,"fontSize":9.5,"fontWeight":"bold","fontStyle":"italic"},
    "encoding":{"x":{"field":"key","type":"nominal","title":null,"bandPosition":0.5,"axis":{"title":null,"labels":false,"ticks":false}},"y":{"datum":0,"type":"quantitative","title":"Relative IL-6  mRNA","axis":{"values":[0,5,10,15,20,25,30,35,40],"title":"Relative IL-6  mRNA","titlePadding":12}},"text":{"field":"sup","type":"nominal"}}},
   {"data":{"name":"cat"},"transform":[{"filter":"datum.sup == ''"}],"mark":{"type":"text","align":"center","baseline":"middle","dy":20,"fontSize":15,"fontWeight":"bold","fontStyle":"italic"},
    "encoding":{"x":{"field":"key","type":"nominal","title":null,"bandPosition":0.5,"axis":{"title":null,"labels":false,"ticks":false}},"y":{"datum":0,"type":"quantitative","title":"Relative IL-6  mRNA","axis":{"values":[0,5,10,15,20,25,30,35,40],"title":"Relative IL-6  mRNA","titlePadding":12}},"text":{"field":"base","type":"nominal"}}}
  ]}
]
}
